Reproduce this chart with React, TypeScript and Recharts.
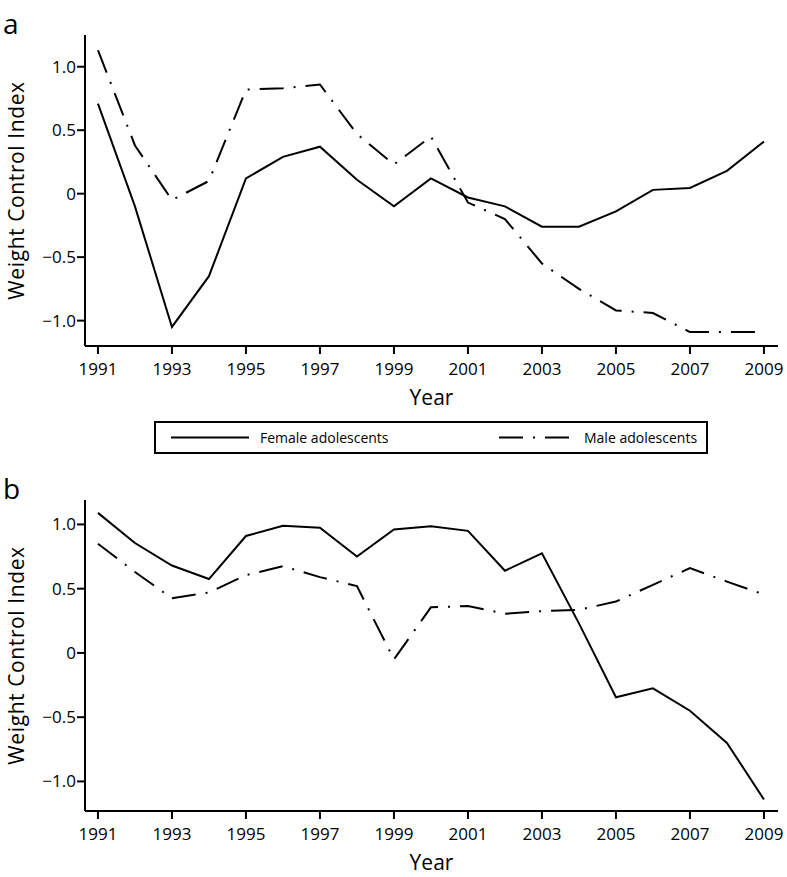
import React from 'react';
import { LineChart, Line, XAxis, YAxis } from 'recharts';

const years = [1991, 1992, 1993, 1994, 1995, 1996, 1997, 1998, 1999, 2000, 2001, 2002, 2003, 2004, 2005, 2006, 2007, 2008, 2009];

// panel a
const femaleA = [0.71, -0.1, -1.05, -0.65, 0.12, 0.29, 0.37, 0.11, -0.1, 0.12, -0.03, -0.1, -0.26, -0.26, -0.14, 0.03, 0.045, 0.18, 0.41];
const maleA = [1.13, 0.38, -0.05, 0.1, 0.82, 0.83, 0.86, 0.47, 0.23, 0.45, -0.07, -0.2, -0.55, -0.75, -0.92, -0.94, -1.09, -1.09, -1.09];

// panel b
const femaleB = [1.09, 0.855, 0.68, 0.575, 0.91, 0.99, 0.975, 0.75, 0.96, 0.985, 0.95, 0.64, 0.775, 0.23, -0.345, -0.275, -0.45, -0.7, -1.14];
const maleB = [0.85, 0.63, 0.425, 0.47, 0.605, 0.675, 0.59, 0.52, -0.05, 0.355, 0.365, 0.305, 0.325, 0.335, 0.4, 0.53, 0.66, 0.555, 0.455];

const xTicks = [1991, 1993, 1995, 1997, 1999, 2001, 2003, 2005, 2007, 2009];
const yTicks = [-1, -0.5, 0, 0.5, 1];

const FONT = '"Open Sans", sans-serif';
const DASH_DOT = '24 10 2 10';

const fmtY = (v: number) => (v === 0 ? '0' : v.toFixed(1).replace('-', '\u2212'));

const Panel = ({ female, male, domain }: { female: number[]; male: number[]; domain: [number, number] }) => {
  const data = years.map((year, i) => ({ year, female: female[i], male: male[i] }));
  return (
    <LineChart width={787} height={412} data={data} margin={{ top: 35, right: 9, bottom: 0, left: 0 }}>
      <XAxis
        dataKey="year"
        type="number"
        domain={[1990.65, 2009.38]}
        ticks={xTicks}
        allowDataOverflow
        height={66}
        stroke="#000"
        strokeWidth={2}
        tickSize={8}
        tickMargin={9}
        tick={{ fill: '#000', fontSize: 17, fontFamily: FONT }}
        label={{ value: 'Year', position: 'insideBottom', offset: 7, fill: '#000', fontSize: 21, fontFamily: FONT }}
      />
      <YAxis
        type="number"
        domain={domain}
        ticks={yTicks}
        allowDataOverflow
        width={85}
        stroke="#000"
        strokeWidth={2}
        tickSize={8}
        tickMargin={1}
        tickFormatter={fmtY}
        tick={{ fill: '#000', fontSize: 17, fontFamily: FONT }}
        label={{
          value: 'Weight Control Index',
          angle: -90,
          position: 'insideLeft',
          offset: 17,
          fill: '#000',
          fontSize: 21,
          fontFamily: FONT,
          style: { textAnchor: 'middle', letterSpacing: '0.6px' },
        }}
      />
      <Line type="linear" dataKey="female" stroke="#000" strokeWidth={2} dot={false} isAnimationActive={false} />
      <Line type="linear" dataKey="male" stroke="#000" strokeWidth={2} strokeDasharray={DASH_DOT} dot={false} isAnimationActive={false} />
    </LineChart>
  );
};

const PanelLabel = ({ text }: { text: string }) => (
  <div
    style={{
      position: 'absolute',
      left: 3,
      top: 4,
      fontSize: 28,
      lineHeight: '38px',
      fontFamily: FONT,
      color: '#000',
    }}
  >
    {text}
  </div>
);

const LegendBox = () => (
  <div
    style={{
      position: 'absolute',
      left: 154,
      top: 421,
      width: 554,
      height: 33,
      boxSizing: 'border-box',
      border: '2px solid #000',
      fontFamily: FONT,
      fontSize: 14,
      color: '#000',
    }}
  >
    <svg width={554} height={29} style={{ position: 'absolute', left: 0, top: 0 }}>
      <line x1={15} x2={93} y1={14.5} y2={14.5} stroke="#000" strokeWidth={2} />
      <line x1={343} x2={419} y1={14.5} y2={14.5} stroke="#000" strokeWidth={2} strokeDasharray={DASH_DOT} />
    </svg>
    <span style={{ position: 'absolute', left: 104, top: 5, lineHeight: '19px' }}>Female adolescents</span>
    <span style={{ position: 'absolute', left: 428, top: 5, lineHeight: '19px' }}>Male adolescents</span>
  </div>
);

export default function App() {
  return (
    <div style={{ position: 'absolute', left: 0, top: 0, width: 787, height: 877, background: '#fff' }}>
      <div style={{ position: 'absolute', left: 0, top: 0 }}>
        <Panel female={femaleA} male={maleA} domain={[-1.2, 1.25]} />
        <PanelLabel text="a" />
      </div>
      <LegendBox />
      <div style={{ position: 'absolute', left: 0, top: 465 }}>
        <Panel female={femaleB} male={maleB} domain={[-1.23, 1.19]} />
        <PanelLabel text="b" />
      </div>
    </div>
  );
}
